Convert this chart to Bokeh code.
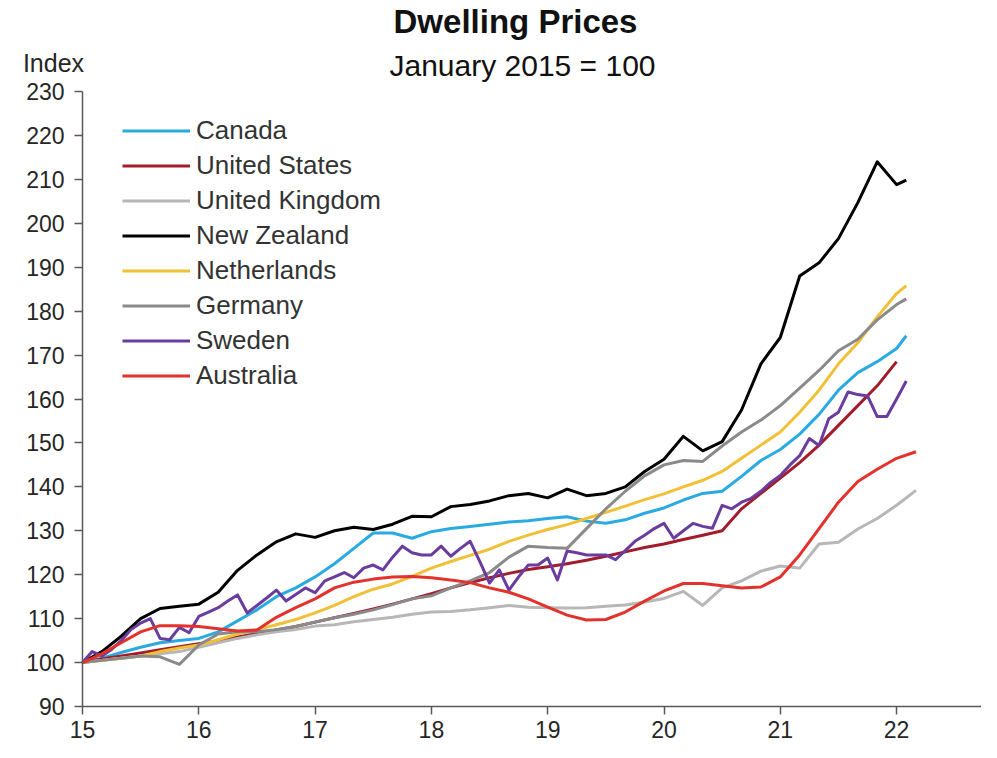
from bokeh.plotting import figure
from bokeh.models import Label, Legend, LegendItem, FixedTicker, Range1d
from bokeh.embed import file_html
from bokeh.resources import INLINE

# ---- data (index, January 2015 = 100) ----
# most series are read every second month from Jan 2015 (month 0) to Jan 2022 (month 84)
BI_MONTHS = list(range(0, 85, 2))
# x-axis tick labels (years, two-digit)
YEAR_TICKS = [15, 16, 17, 18, 19, 20, 21, 22]
Y_TICKS = list(range(90, 231, 10))

canada = [100, 101, 102.3, 103.5, 104.5, 105, 105.5, 107, 109.5, 112, 115, 117, 119.5,
          122.5, 126, 129.5, 129.5, 128.3, 129.8, 130.5, 131, 131.5, 132, 132.3, 132.8,
          133.2, 132.2, 131.7, 132.5, 134, 135.2, 137, 138.5, 139, 142.4, 146, 148.5,
          152, 156.5, 162, 166, 168.5, 171.5]
united_states = [100, 100.8, 101.5, 102.2, 102.9, 103.6, 104.3, 105, 105.8, 106.6, 107.4,
                 108.2, 109.2, 110.2, 111.2, 112.2, 113.3, 114.5, 115.7, 117, 118.2, 119.3,
                 120.3, 121.2, 121.8, 122.5, 123.3, 124.2, 125.2, 126.2, 127, 128, 129, 130,
                 135, 138.5, 142, 145.5, 149.5, 154, 158.5, 163, 168.5]
united_kingdom = [100, 100.5, 101, 101.5, 102, 102.5, 103.5, 104.5, 105.5, 106.3, 107, 107.5,
                  108.3, 108.6, 109.3, 109.8, 110.3, 111, 111.5, 111.6, 112, 112.5, 113, 112.6,
                  112.5, 112.4, 112.5, 112.8, 113.1, 113.8, 114.6, 116.2, 113, 117, 118.6,
                  120.8, 122, 121.5, 127, 127.4, 130.4, 132.8, 135.8]
new_zealand = [100, 102.5, 106, 110, 112.3, 112.8, 113.3, 116, 121, 124.5, 127.5, 129.3,
               128.5, 130, 130.8, 130.3, 131.5, 133.3, 133.2, 135.5, 136, 136.8, 138, 138.5,
               137.5, 139.5, 138, 138.5, 140, 143.5, 146.3, 151.5, 148.2, 150.3, 157.5, 168,
               174, 188, 191, 196.5, 204.7, 214, 208.8]
netherlands = [100, 100.5, 101, 101.5, 102.5, 103.3, 104, 105.2, 106.5, 107.5, 108.6, 109.8,
               111.3, 113, 115, 116.7, 117.9, 119.6, 121.5, 123, 124.4, 125.8, 127.6, 129,
               130.3, 131.4, 132.8, 134.2, 135.6, 137.1, 138.4, 140, 141.5, 143.5, 146.5,
               149.5, 152.5, 157, 162, 168, 172.8, 178.7, 184]
germany = [100, 100.5, 101, 101.5, 101.3, 99.6, 104, 106.5, 107, 107, 107.5, 108.2, 109.2,
           110.2, 111, 112, 113.2, 114.5, 115.2, 117, 118.6, 120.5, 124, 126.5, 126.2, 126,
           130.5, 135, 139, 142.5, 145, 146, 145.8, 149.3, 152.5, 155.2, 158.5, 162.5, 166.5,
           171, 173.6, 178, 181.5]
australia = [100, 102, 104.5, 107, 108.4, 108.4, 108.2, 107.7, 107.2, 107.4, 110.3, 112.5,
             114.5, 117, 118.3, 119, 119.5, 119.6, 119.3, 118.8, 118.2, 117, 116, 114.5,
             112.6, 110.8, 109.7, 109.8, 111.5, 114, 116.3, 118, 118, 117.5, 117, 117.2,
             119.5, 124.5, 130.5, 136.5, 141.2, 144, 146.5]
# Sweden is read monthly (month 0 .. month 85)
sweden = [100, 102.5, 101.5, 103, 105, 107.5, 109, 110, 105.5, 105.2, 108, 106.8, 110.5,
          111.5, 112.5, 114, 115.4, 111.3, 113, 114.7, 116.5, 114, 115.5, 117, 115.9, 118.6,
          119.5, 120.5, 119.3, 121.5, 122.2, 121.1, 124, 126.5, 125, 124.5, 124.5, 126.5,
          124.2, 126, 127.6, 123, 118.1, 121.1, 116.5, 119.5, 122.2, 122.2, 123.8, 118.8,
          125.4, 125, 124.5, 124.5, 124.5, 123.4, 125.5, 127.6, 129, 130.5, 131.7, 128.3,
          130, 131.7, 131, 130.6, 135.8, 135, 136.5, 137.4, 139, 141, 142.6, 145, 147.1,
          151, 149.4, 155.5, 157, 161.6, 161, 160.7, 156, 156, 160, 164.1]
# latest observation of each series (month, value); None = ends at month 84
last_obs = {
    "Canada": (85, 174.4),
    "United States": None,
    "United Kingdom": (86, 139.2),
    "New Zealand": (85, 209.8),
    "Netherlands": (85, 185.8),
    "Germany": (85, 182.8),
    "Australia": (86, 148.0),
}

names = ["Canada", "United States", "United Kingdom", "New Zealand",
         "Netherlands", "Germany", "Sweden", "Australia"]
series = {
    "Canada": canada, "United States": united_states, "United Kingdom": united_kingdom,
    "New Zealand": new_zealand, "Netherlands": netherlands, "Germany": germany,
    "Australia": australia,
}
colors = {
    "Canada": "#29ABE2", "United States": "#A21C2B", "United Kingdom": "#B7B7B7",
    "New Zealand": "#000000", "Netherlands": "#F2C037", "Germany": "#8A8A8A",
    "Sweden": "#6A3C9E", "Australia": "#E2322B",
}

FONT = "Liberation Sans"
W, H = 981, 742
# screen layout of the axes box (pixels): x=15 at 82, 116.3 px per year;
# y=230 at 91, y=90 at 706
PX_YEAR = 116.3
PX_UNIT = (706 - 91) / 140.0
x0 = 15 - 82 / PX_YEAR
x1 = 15 + (W - 82) / PX_YEAR
y1 = 230 + 91 / PX_UNIT
y0 = 90 - (H - 706) / PX_UNIT

p = figure(width=W, height=H, x_range=Range1d(x0, x1), y_range=Range1d(y0, y1),
           output_backend="svg", toolbar_location=None,
           min_border_left=0, min_border_right=0, min_border_top=0, min_border_bottom=0)
p.outline_line_color = None
p.xgrid.grid_line_color = None
p.ygrid.grid_line_color = None
p.background_fill_color = "white"
p.border_fill_color = "white"

items = []
for name in names:
    if name == "Sweden":
        xs = [15 + m / 12 for m in range(len(sweden))]
        ys = list(sweden)
    else:
        vals = series[name]
        xs = [15 + m / 12 for m in BI_MONTHS[:len(vals)]]
        ys = list(vals)
        lo = last_obs[name]
        if lo is not None:
            xs.append(15 + lo[0] / 12)
            ys.append(lo[1])
    r = p.line(xs, ys, line_color=colors[name], line_width=3, line_join="round")
    items.append(LegendItem(label=name, renderers=[r]))

legend = Legend(items=items, location=(122, H - 113 - 8 * 35), orientation="vertical",
                glyph_width=68, glyph_height=35, label_height=35, spacing=0,
                padding=0, margin=0, label_standoff=6,
                label_text_font=FONT, label_text_font_size="26px", label_text_color="#333333",
                border_line_alpha=0, background_fill_alpha=0)
p.add_layout(legend, "center")

for ax in (p.xaxis, p.yaxis):
    ax.axis_line_color = "#595959"
    ax.axis_line_width = 1.5
    ax.major_tick_line_color = "#595959"
    ax.major_tick_line_width = 1.5
    ax.major_tick_in = 0
    ax.major_tick_out = 8
    ax.minor_tick_line_color = None
    ax.major_label_text_font = FONT
    ax.major_label_text_font_size = "23px"
    ax.major_label_text_color = "#262626"

p.xaxis.ticker = FixedTicker(ticks=YEAR_TICKS)
p.yaxis.ticker = FixedTicker(ticks=Y_TICKS)
p.xaxis.fixed_location = 90
p.yaxis.fixed_location = 15
p.xaxis.bounds = (15, x1)
p.yaxis.bounds = (90, 230)
p.xaxis.major_label_standoff = 6
p.yaxis.major_label_standoff = 10

def sy(py):
    return y1 - py / PX_UNIT

def sx(px):
    return x0 + px / PX_YEAR

p.add_layout(Label(x=sx(515), y=sy(21), text="Dwelling Prices", text_align="center",
                   text_baseline="middle", text_font=FONT, text_font_style="bold",
                   text_font_size="33px", text_color="#111111"))
p.add_layout(Label(x=sx(522), y=sy(65), text="January 2015 = 100", text_align="center",
                   text_baseline="middle", text_font=FONT,
                   text_font_size="30px", text_color="#111111"))
p.add_layout(Label(x=sx(53), y=sy(62), text="Index", text_align="center",
                   text_baseline="middle", text_font=FONT,
                   text_font_size="25px", text_color="#262626"))

open("out.html", "w").write(file_html(p, INLINE))
